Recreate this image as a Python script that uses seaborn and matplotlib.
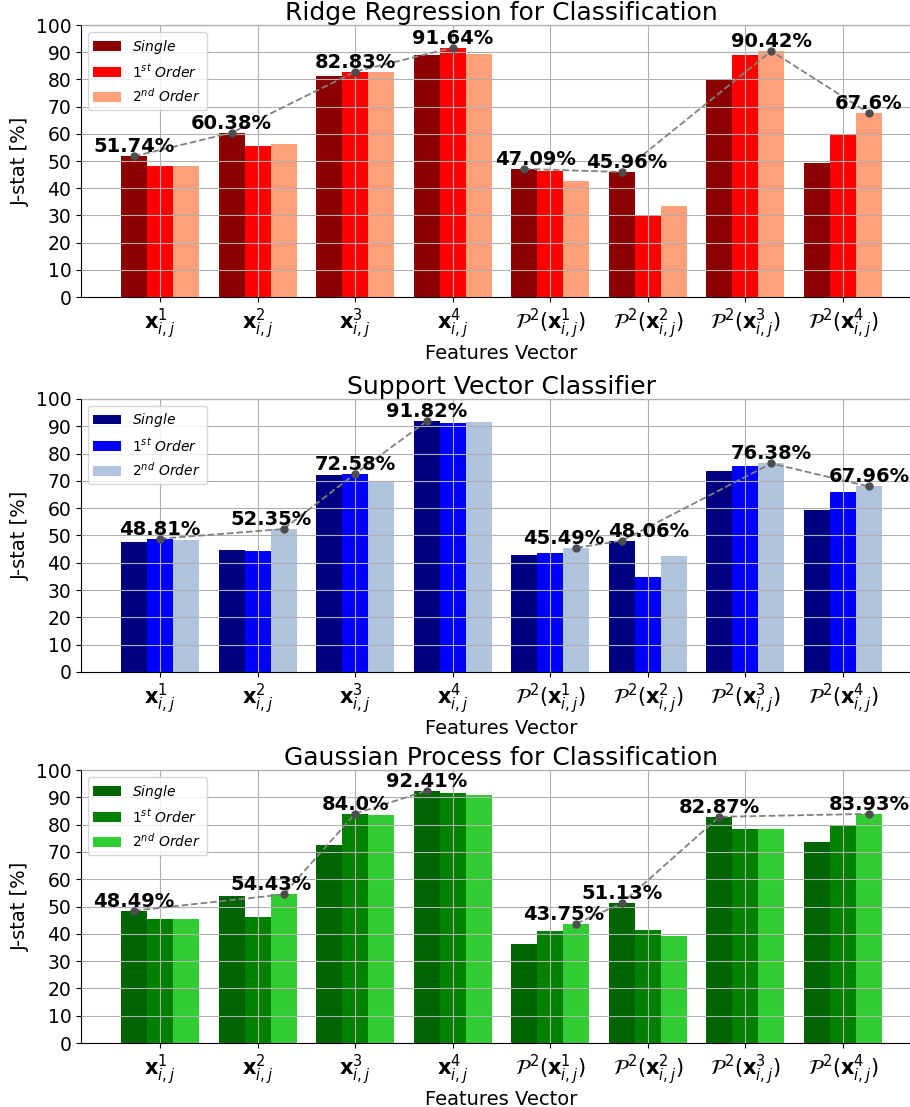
import numpy as np
import pandas as pd
import matplotlib
matplotlib.use("Agg")
import matplotlib.pyplot as plt
import seaborn as sns

# Feature-vector categories (x axis) and model variants (hue)
features = [
    r'$\mathbf{x}_{i,j}^{1}$', r'$\mathbf{x}_{i,j}^{2}$',
    r'$\mathbf{x}_{i,j}^{3}$', r'$\mathbf{x}_{i,j}^{4}$',
    r'$\mathcal{P}^2(\mathbf{x}_{i,j}^{1})$', r'$\mathcal{P}^2(\mathbf{x}_{i,j}^{2})$',
    r'$\mathcal{P}^2(\mathbf{x}_{i,j}^{3})$', r'$\mathcal{P}^2(\mathbf{x}_{i,j}^{4})$',
]
orders = [r'$Single$', r'$1^{st}\ Order$', r'$2^{nd}\ Order$']

# J-statistic [%] per classifier and variant
ridge_single = [51.74, 60.38, 81.2, 89.0, 47.09, 45.96, 80.0, 49.1]
ridge_first = [48.3, 55.7, 82.83, 91.64, 46.3, 30.2, 88.8, 59.5]
ridge_second = [48.0, 56.1, 82.7, 89.2, 42.8, 33.6, 90.42, 67.6]

svc_single = [47.6, 44.8, 72.3, 91.82, 42.7, 48.06, 73.5, 59.2]
svc_first = [48.81, 44.4, 72.58, 91.1, 43.7, 34.8, 75.6, 66.1]
svc_second = [48.5, 52.35, 69.4, 91.5, 45.49, 42.6, 76.38, 67.96]

gp_single = [48.49, 53.8, 72.7, 92.41, 36.2, 51.13, 82.87, 73.5]
gp_first = [45.3, 46.1, 84.0, 91.6, 40.9, 41.4, 78.3, 79.9]
gp_second = [45.3, 54.43, 83.5, 90.9, 43.75, 39.1, 78.3, 83.93]

titles = ["Ridge Regression for Classification",
          "Support Vector Classifier",
          "Gaussian Process for Classification"]
series = [(ridge_single, ridge_first, ridge_second),
          (svc_single, svc_first, svc_second),
          (gp_single, gp_first, gp_second)]
palettes = [["#8B0000", "#FF0000", "#FFA07A"],
            ["#000080", "#0000FF", "#B0C4DE"],
            ["#006400", "#008000", "#32CD32"]]

# the raw features and their polynomial expansions form two separate trends
feature_families = [range(0, 4), range(4, 8)]

# horizontal nudges for annotations that would otherwise collide
label_nudge = [{4: 0.12, 5: 0.05},
               {1: -0.13, 4: -0.13, 5: 0.28},
               {1: -0.13, 4: -0.13}]

# axes boxes in figure fractions: [left, bottom, width, height]
boxes = [[0.089, 0.7317, 0.924, 0.2457],
         [0.089, 0.3930, 0.924, 0.2466],
         [0.089, 0.0578, 0.924, 0.2466]]

fig = plt.figure(figsize=(9.10, 11.07), dpi=100)

for k in range(3):
    ax = fig.add_axes(boxes[k])
    df = pd.DataFrame({
        "feature": np.tile(features, 3),
        "order": np.repeat(orders, len(features)),
        "jstat": np.concatenate(series[k]),
    })
    sns.barplot(data=df, x="feature", y="jstat", hue="order",
                hue_order=orders, order=features, palette=palettes[k],
                saturation=1, errorbar=None, ax=ax)

    # best variant per feature, taken from the drawn bars
    xs, ys = [], []
    for g in range(len(features)):
        bars = [c.patches[g] for c in ax.containers]
        best = max(bars, key=lambda p: p.get_height())
        xs.append(best.get_x() + best.get_width() / 2)
        ys.append(best.get_height())

    # dashed trend line through the tallest bars of each family
    for fam in feature_families:
        ax.plot([xs[g] for g in fam], [ys[g] for g in fam],
                linestyle="--", color="gray", linewidth=1.3,
                marker="o", markersize=5, mfc="#4d4d4d", mec="#4d4d4d",
                zorder=3)
    for g, (x, y) in enumerate(zip(xs, ys)):
        ax.text(x + label_nudge[k].get(g, 0.0), y, f"{round(y, 2)}%",
                ha="center", va="bottom", fontsize=14, fontweight="bold",
                zorder=5)

    old = ax.get_legend()
    handles = old.legend_handles
    labels = [t.get_text() for t in old.get_texts()]
    ax.legend(handles, labels, loc="upper left", fontsize=10)

    ax.set_ylim(0, 100)
    ax.set_yticks(np.arange(0, 101, 10))
    ax.set_xlim(-0.81, 7.81)
    ax.grid(True, color="#b0b0b0", linewidth=0.8)
    ax.set_axisbelow(False)
    ax.tick_params(axis="y", labelsize=13.5)
    ax.tick_params(axis="x", labelsize=15)
    ax.set_title(titles[k], fontsize=18, pad=3)
    ax.set_ylabel("J-stat [%]", fontsize=14)
    ax.set_xlabel("Features Vector", fontsize=14, labelpad=2)

fig.savefig("out.png", dpi=100)
